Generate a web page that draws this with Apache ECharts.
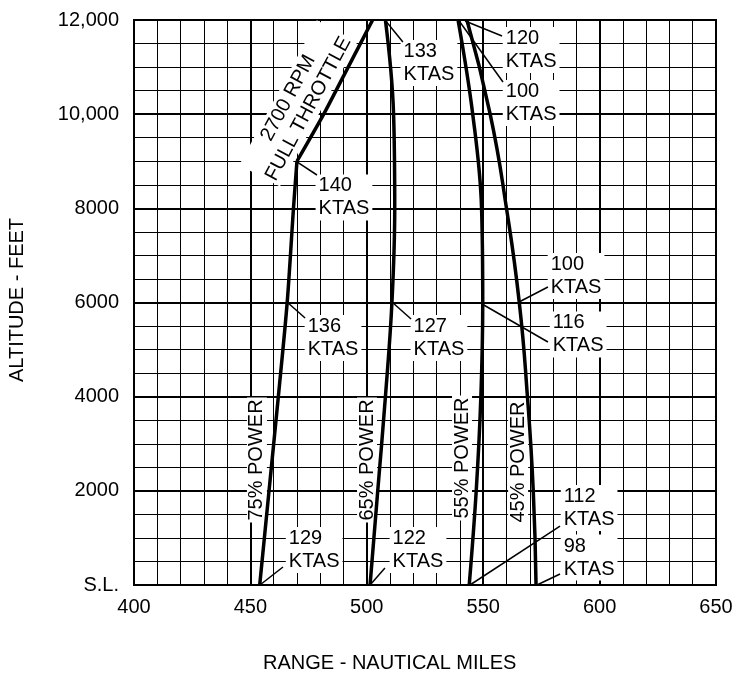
<!DOCTYPE html>
<html>
<head>
<meta charset="utf-8">
<script src="https://cdn.jsdelivr.net/npm/echarts@6/dist/echarts.min.js"></script>
<style>
  html, body { margin: 0; padding: 0; background: #fff; }
  #chart { width: 736px; height: 675px; }
</style>
</head>
<body>
<div id="chart"></div>
<script>
// range (nm) vs altitude (ft) for each power setting
const power75 = [[454, 0], [458, 2000], [462, 4000], [465.8, 6000], [468.5, 8000], [470, 9000]]
const fullThrottle = [[470, 9000], [481.5, 10000], [492, 11000], [502.5, 12000]]
const power65 = [[501.4, 0], [504.7, 2000], [508, 4000], [510.8, 6000], [512, 8000], [511.5, 10000], [508, 12000]]
const power55 = [[544, 0], [547, 2000], [549, 4000], [549.8, 6000], [549.3, 8000], [545.5, 10000], [539.2, 12000]]
const power45 = [[572.7, 0], [571.5, 2000], [569, 4000], [565.5, 6000], [560, 8000], [553, 10000], [543, 12000]]

const xTicks = [400, 450, 500, 550, 600, 650]
const yTicks = ['S.L.', '2000', '4000', '6000', '8000', '10,000', '12,000']

// speed callouts: [label x, label y, text], leader from curve point to label
const speedNotes = [
  [514.5, 11087, '133\nKTAS'],
  [558.4, 11363, '120\nKTAS'],
  [558.4, 10238, '100\nKTAS'],
  [478, 8231, '140\nKTAS'],
  [473.3, 5246, '136\nKTAS'],
  [518.8, 5246, '127\nKTAS'],
  [577.7, 6563, '100\nKTAS'],
  [578.6, 5321, '116\nKTAS'],
  [465.2, 743, '129\nKTAS'],
  [509.8, 743, '122\nKTAS'],
  [583.3, 1635, '112\nKTAS'],
  [583.3, 584, '98\nKTAS']
]
const leaders = [
  [[507.8, 12000], [515.5, 11533]],
  [[542.2, 11980], [558.1, 11660]],
  [[540, 11958], [558.5, 10684]],
  [[470, 8985], [478.6, 8708]],
  [[466.2, 5990], [473.5, 5671]],
  [[511.3, 5990], [519, 5650]],
  [[565.4, 6011], [577.8, 6330]],
  [[549.5, 5968], [577.8, 5161]],
  [[454.1, 0], [464, 382]],
  [[501.4, 0], [507.8, 361]],
  [[544.3, 0], [583, 1253]],
  [[573.1, 0], [583, 234]]
]
const powerNotes = [
  [452.8, 2655, '75% POWER'],
  [500.1, 2655, '65% POWER'],
  [540.9, 2697, '55% POWER'],
  [565, 2612, '45% POWER']
]
const throttleNote = [[470.6, 10227, '2700 RPM\nFULL THROTTLE']]

const font = 'Liberation Sans, Arial, Helvetica, sans-serif'
const chart = echarts.init(document.getElementById('chart'))

const curve = (data, smooth) => ({
  type: 'line',
  data: data,
  smooth: smooth,
  symbol: 'none',
  lineStyle: { color: '#000', width: 3.5 },
  z: 5
})

const noteSeries = (data, label) => ({
  type: 'scatter',
  data: data,
  symbolSize: 0,
  z: 3,
  itemStyle: { opacity: 1 },
  label: Object.assign({
    show: true,
    formatter: (p) => p.value[2],
    color: '#000',
    opacity: 1,
    fontSize: 20,
    backgroundColor: '#fff'
  }, label)
})

const option = {
  animation: false,
  textStyle: { fontFamily: font },
  grid: {
    left: 134,
    right: 20,
    top: 20,
    bottom: 90,
    show: true,
    borderColor: '#000',
    borderWidth: 2
  },
  xAxis: {
    type: 'value',
    min: 400,
    max: 650,
    interval: 50,
    axisLine: { show: true, lineStyle: { color: '#000', width: 2 } },
    axisTick: { show: false },
    minorTick: { show: false, splitNumber: 5 },
    splitLine: { show: true, lineStyle: { color: '#000', width: 2 } },
    minorSplitLine: { show: true, lineStyle: { color: '#000', width: 1 } },
    axisLabel: {
      color: '#000',
      fontSize: 20,
      margin: 12,
      formatter: (v) => String(xTicks[xTicks.indexOf(v)])
    }
  },
  yAxis: {
    type: 'value',
    min: 0,
    max: 12000,
    interval: 2000,
    axisLine: { show: true, lineStyle: { color: '#000', width: 2 } },
    axisTick: { show: false },
    minorTick: { show: false, splitNumber: 4 },
    splitLine: { show: true, lineStyle: { color: '#000', width: 2 } },
    minorSplitLine: { show: true, lineStyle: { color: '#000', width: 1 } },
    axisLabel: {
      color: '#000',
      fontSize: 20,
      margin: 15,
      formatter: (v) => yTicks[v / 2000]
    }
  },
  graphic: [
    {
      type: 'text',
      left: 263,
      top: 653,
      style: { text: 'RANGE - NAUTICAL MILES', fill: '#000', font: '20px ' + font }
    },
    {
      type: 'text',
      x: 17.5,
      y: 300,
      rotation: Math.PI / 2,
      style: {
        text: 'ALTITUDE - FEET',
        fill: '#000',
        font: '20px ' + font,
        align: 'center',
        verticalAlign: 'middle'
      }
    }
  ],
  series: [
    noteSeries(speedNotes, {
      position: 'right',
      distance: 0,
      lineHeight: 23,
      padding: [0, 3, 0, 3]
    }),
    noteSeries(powerNotes, {
      position: 'inside',
      rotate: 90,
      padding: [0, 2, 0, 2]
    }),
    noteSeries(throttleNote, {
      position: 'inside',
      rotate: 61.8,
      align: 'center',
      lineHeight: 23,
      padding: [0, 2, 0, 2]
    }),
    {
      type: 'lines',
      coordinateSystem: 'cartesian2d',
      data: leaders.map(c => ({ coords: c })),
      lineStyle: { color: '#000', width: 1.5, opacity: 1 },
      z: 4
    },
    curve(power75, 0.3),
    curve(fullThrottle, 0.2),
    curve(power65, 0.4),
    curve(power55, 0.4),
    curve(power45, 0.5)
  ]
}

chart.setOption(option)
</script>
</body>
</html>
